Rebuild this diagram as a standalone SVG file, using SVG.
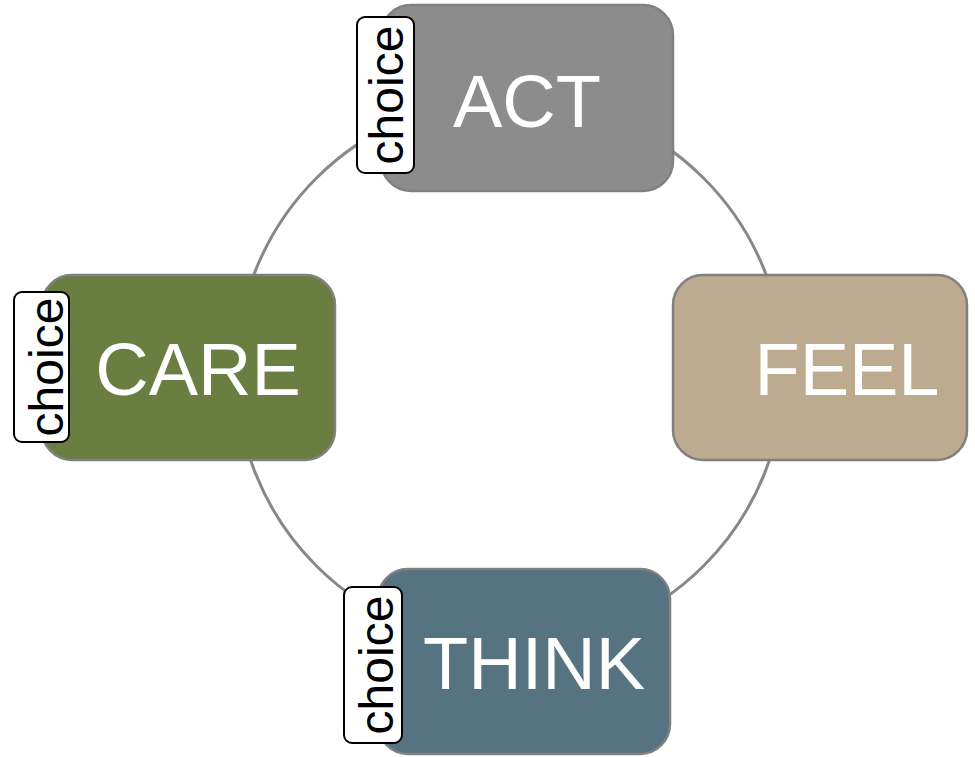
<svg xmlns="http://www.w3.org/2000/svg" width="975" height="757" viewBox="0 0 975 757">
<style>
.box{stroke:#808080;stroke-width:2.5}
.lbl{font-family:"Liberation Sans",Arial,sans-serif;font-size:74px;fill:#ffffff;text-anchor:middle}
.chb{fill:#ffffff;stroke:#000000;stroke-width:2}
.cht{font-family:"Liberation Sans",Arial,sans-serif;font-size:48px;fill:#000000;text-anchor:middle}
</style>
<rect width="975" height="757" fill="#ffffff"/>
<g id="connectors">
<circle cx="510" cy="372" r="274" fill="none" stroke="#888888" stroke-width="3"/>
</g>
<g id="act">
<rect class="box" x="381" y="5" width="292" height="186" rx="30" fill="#8c8c8c"/>
<text class="lbl" x="527" y="127">ACT</text>
<rect class="chb" x="357" y="17" width="57" height="156" rx="8"/>
<text class="cht" transform="translate(403,95) rotate(-90)">choice</text>
</g>
<g id="care">
<rect class="box" x="42" y="275" width="293" height="185" rx="30" fill="#6b7e41"/>
<text class="lbl" x="198" y="395">CARE</text>
<rect class="chb" x="14" y="292" width="55" height="150" rx="8"/>
<text class="cht" transform="translate(63,367) rotate(-90)">choice</text>
</g>
<g id="feel">
<rect class="box" x="673" y="275" width="294" height="185" rx="30" fill="#bdab8f"/>
<text class="lbl" x="847" y="395">FEEL</text>
</g>
<g id="think">
<rect class="box" x="378" y="569" width="292" height="185" rx="30" fill="#557381"/>
<text class="lbl" x="534" y="689">THINK</text>
<rect class="chb" x="344" y="587" width="58" height="156" rx="8"/>
<text class="cht" transform="translate(393,665) rotate(-90)">choice</text>
</g>
</svg>
